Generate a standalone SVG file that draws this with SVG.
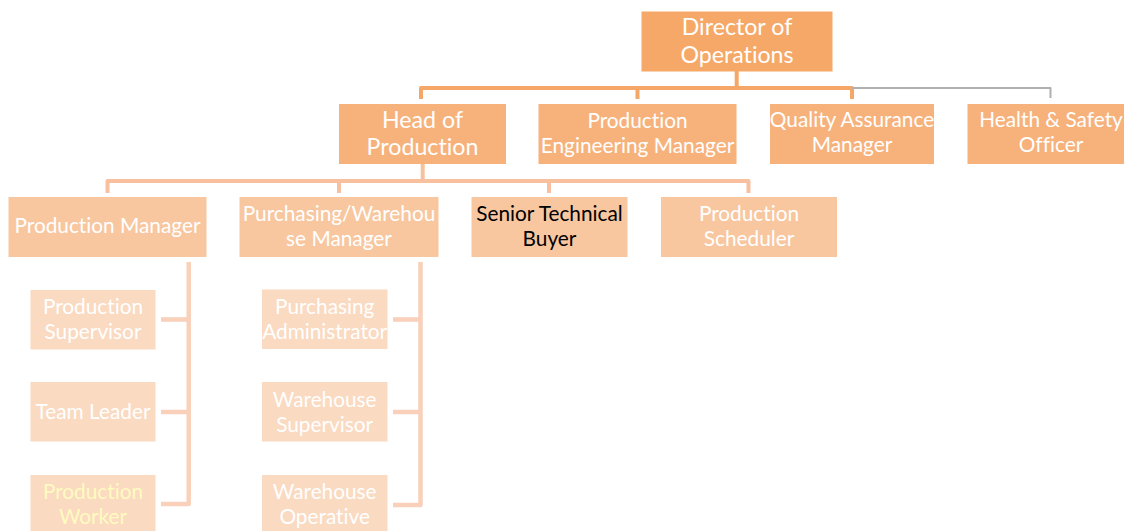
<svg xmlns="http://www.w3.org/2000/svg" width="1124" height="531" viewBox="0 0 1124 531">
<style>
text{font-family:Lato,"Open Sans","Liberation Sans",sans-serif;fill:#fff;text-anchor:middle;font-variant-ligatures:none;font-feature-settings:"liga" 0}
.t1{font-size:23.2px}
.t2{font-size:20.8px}
.l1{fill:#F5A867}
.l2{fill:#F7B27C}
.l3{fill:#F8C7A0}
.l4{fill:#FADAC1}
.c{fill:none;stroke-linejoin:round;stroke-linecap:butt}
</style>
<rect width="1124" height="531" fill="#fff"/>
<g id="connectors">
<path class="c" stroke="#F4A766" stroke-width="4" d="M736.7 71V88M421 99V88H852V99M637.5 88V99"/>
<path class="c" stroke="#B0B0B0" stroke-width="2" d="M852 88H1050.5V98"/>
<path class="c" stroke="#F8C09E" stroke-width="4" d="M422.7 164V181M107.5 193V181H748.5V193M339 181V193M549 181V193"/>
<path class="c" stroke="#F9D0BA" stroke-width="4.5" d="M188.7 262V504H161M161 319.5H188.7M161 412H188.7"/>
<path class="c" stroke="#F9D0BA" stroke-width="4.5" d="M420.5 262V505H393M393 319.5H420.5M393 412H420.5"/>
</g>
<g id="director">
<rect class="l1" x="641.5" y="11.5" width="191" height="60"/>
<text class="t1" x="737" y="35">Director of</text>
<text class="t1" x="737" y="63">Operations</text>
</g>
<g id="head-production">
<rect class="l2" x="339" y="104" width="167" height="60"/>
<text class="t1" x="422.5" y="128">Head of</text>
<text class="t1" x="422.5" y="155">Production</text>
</g>
<g id="prod-eng-manager">
<rect class="l2" x="538.5" y="104" width="198" height="60"/>
<text class="t2" x="637.5" y="128">Production</text>
<text class="t2" x="637.5" y="153">Engineering Manager</text>
</g>
<g id="qa-manager">
<rect class="l2" x="770" y="104" width="164" height="60"/>
<text class="t2" x="852" y="127">Quality Assurance</text>
<text class="t2" x="852" y="152">Manager</text>
</g>
<g id="hs-officer">
<rect class="l2" x="967.5" y="104" width="166" height="60"/>
<text class="t2" x="1051" y="127">Health &amp; Safety</text>
<text class="t2" x="1051" y="152">Officer</text>
</g>
<g id="production-manager">
<rect class="l3" x="8.5" y="197" width="198" height="60"/>
<text class="t2" x="107.5" y="233">Production Manager</text>
</g>
<g id="purchasing-manager">
<rect class="l3" x="239.5" y="197" width="199" height="60"/>
<text class="t2" x="339" y="221">Purchasing/Warehou</text>
<text class="t2" x="339" y="246">se Manager</text>
</g>
<g id="senior-buyer">
<rect class="l3" x="471.5" y="197" width="156" height="60"/>
<text class="t2" x="549.5" y="221" style="fill:#000">Senior Technical</text>
<text class="t2" x="549.5" y="246" style="fill:#000">Buyer</text>
</g>
<g id="production-scheduler">
<rect class="l3" x="661" y="197" width="176" height="60"/>
<text class="t2" x="749" y="221">Production</text>
<text class="t2" x="749" y="246">Scheduler</text>
</g>
<g id="production-supervisor">
<rect class="l4" x="30.5" y="290" width="125" height="59.5"/>
<text class="t2" x="93" y="314">Production</text>
<text class="t2" x="93" y="339">Supervisor</text>
</g>
<g id="team-leader">
<rect class="l4" x="30.5" y="382" width="125" height="59.5"/>
<text class="t2" x="93" y="418.5">Team Leader</text>
</g>
<g id="production-worker">
<rect class="l4" x="30.5" y="475" width="125" height="59.5"/>
<text class="t2" x="93" y="499" style="fill:#FFFAC0">Production</text>
<text class="t2" x="93" y="524" style="fill:#FFFAC0">Worker</text>
</g>
<g id="purchasing-admin">
<rect class="l4" x="262" y="289.5" width="125.5" height="59.5"/>
<text class="t2" x="324.7" y="314">Purchasing</text>
<text class="t2" x="324.7" y="339">Administrator</text>
</g>
<g id="warehouse-supervisor">
<rect class="l4" x="262" y="382" width="125.5" height="59.5"/>
<text class="t2" x="324.7" y="406.5">Warehouse</text>
<text class="t2" x="324.7" y="431.5">Supervisor</text>
</g>
<g id="warehouse-operative">
<rect class="l4" x="262" y="475" width="125.5" height="59.5"/>
<text class="t2" x="324.7" y="499">Warehouse</text>
<text class="t2" x="324.7" y="524">Operative</text>
</g>
</svg>
